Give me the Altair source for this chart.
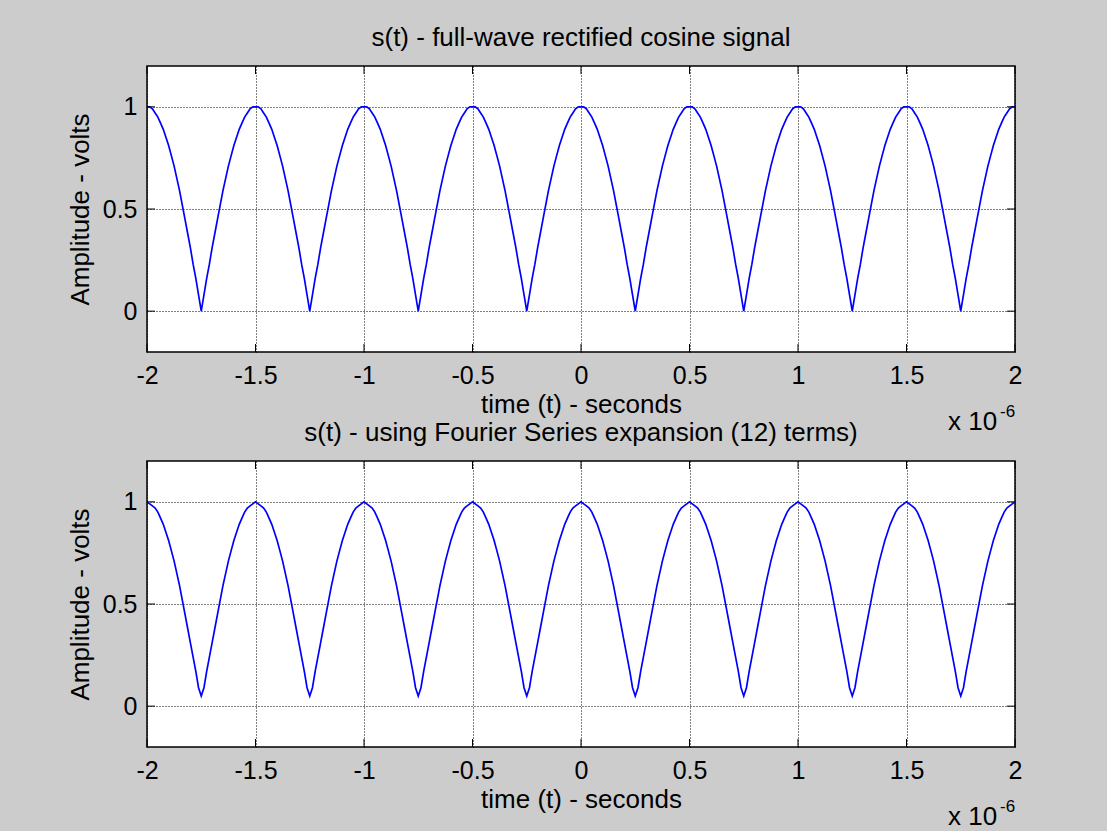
import altair as alt
import pandas as pd

# ---- data (time in microseconds, amplitude in volts) ----
x_ticks = [-2, -1.5, -1, -0.5, 0, 0.5, 1, 1.5, 2]
y_ticks = [0, 0.5, 1]
period_starts = [-2, -1.5, -1, -0.5, 0, 0.5, 1, 1.5]
period_offsets = [0.0, 0.0125, 0.025, 0.0375, 0.05, 0.0625, 0.075, 0.0875, 0.1, 0.1125,
                  0.125, 0.1375, 0.15, 0.1625, 0.175, 0.1875, 0.2, 0.2125, 0.225, 0.2375,
                  0.25, 0.2625, 0.275, 0.2875, 0.3, 0.3125, 0.325, 0.3375, 0.35, 0.3625,
                  0.375, 0.3875, 0.4, 0.4125, 0.425, 0.4375, 0.45, 0.4625, 0.475, 0.4875, 0.5]
rectified = [1.00, 1.00, 0.99, 0.97, 0.95, 0.92, 0.89, 0.85, 0.81, 0.76,
             0.71, 0.65, 0.59, 0.52, 0.45, 0.38, 0.31, 0.23, 0.16, 0.08,
             0.00, 0.08, 0.16, 0.23, 0.31, 0.38, 0.45, 0.52, 0.59, 0.65,
             0.71, 0.76, 0.81, 0.85, 0.89, 0.92, 0.95, 0.97, 0.99, 1.00, 1.00]
fourier12 = [1.00, 0.99, 0.98, 0.97, 0.95, 0.92, 0.89, 0.85, 0.81, 0.76,
             0.71, 0.65, 0.59, 0.52, 0.45, 0.38, 0.31, 0.24, 0.17, 0.09,
             0.05, 0.09, 0.17, 0.24, 0.31, 0.38, 0.45, 0.52, 0.59, 0.65,
             0.71, 0.76, 0.81, 0.85, 0.89, 0.92, 0.95, 0.97, 0.98, 0.99, 1.00]

titles = ["s(t) - full-wave rectified cosine signal",
          "s(t) - using Fourier Series expansion (12) terms)"]
x_title = "time (t) - seconds"
y_title = "Amplitude - volts"
exp_base = "x 10"
exp_power = "-6"

FONT = "Liberation Sans"
W, H = 868, 286
TICK_FS = 25
LABEL_FS = 26


def series(values):
    rows = []
    for i, start in enumerate(period_starts):
        for j, (off, v) in enumerate(zip(period_offsets, values)):
            if i > 0 and j == 0:
                continue
            rows.append({"t": start + off, "v": v})
    return pd.DataFrame(rows)


xscale = alt.Scale(domain=[-2, 2], nice=False, zero=False)
yscale = alt.Scale(domain=[-0.2, 1.2], nice=False, zero=False)
x_axis = alt.Axis(values=x_ticks, title=x_title, grid=True, ticks=False, domain=False,
                  gridColor="black", gridDash=[1, 2], gridOpacity=1, gridWidth=1,
                  labelExpr="'' + datum.value", labelFont=FONT, labelFontSize=TICK_FS,
                  labelColor="black", labelPadding=11, labelFlush=False,
                  titleFont=FONT, titleFontSize=LABEL_FS, titleFontWeight="normal",
                  titleColor="black", titlePadding=3)
y_axis = alt.Axis(values=y_ticks, title=y_title, grid=True, ticks=False, domain=False,
                  gridColor="black", gridDash=[1, 2], gridOpacity=1, gridWidth=1,
                  labelExpr="'' + datum.value", labelFont=FONT, labelFontSize=TICK_FS,
                  labelColor="black", labelPadding=10,
                  titleFont=FONT, titleFontSize=LABEL_FS, titleFontWeight="normal",
                  titleColor="black", titlePadding=9)
X_T = alt.X("t:Q", scale=xscale, axis=x_axis)
Y_V = alt.Y("v:Q", scale=yscale, axis=y_axis)


def panel(values, title):
    df = series(values)
    line = alt.Chart(df).mark_line(color="#0000ff", strokeWidth=1.7, clip=True).encode(x=X_T, y=Y_V)
    xt = pd.DataFrame({"t": x_ticks})
    yt = pd.DataFrame({"v": y_ticks})
    tick_bottom = alt.Chart(xt).mark_rule(color="black", strokeWidth=1).encode(
        x=X_T, y=alt.value(H), y2=alt.value(H - 8))
    tick_top = alt.Chart(xt).mark_rule(color="black", strokeWidth=1).encode(
        x=X_T, y=alt.value(0), y2=alt.value(8))
    tick_left = alt.Chart(yt).mark_rule(color="black", strokeWidth=1).encode(
        y=Y_V, x=alt.value(0), x2=alt.value(8))
    tick_right = alt.Chart(yt).mark_rule(color="black", strokeWidth=1).encode(
        y=Y_V, x=alt.value(W), x2=alt.value(W - 8))
    base_txt = alt.Chart(pd.DataFrame({"s": [exp_base]})).mark_text(
        align="left", baseline="alphabetic", font=FONT, fontSize=LABEL_FS, color="black"
    ).encode(text="s:N", x=alt.value(801), y=alt.value(364))
    pow_txt = alt.Chart(pd.DataFrame({"s": [exp_power]})).mark_text(
        align="left", baseline="alphabetic", font=FONT, fontSize=17, color="black"
    ).encode(text="s:N", x=alt.value(853), y=alt.value(351))
    return alt.layer(line, tick_bottom, tick_top, tick_left, tick_right, base_txt, pow_txt).properties(
        width=W, height=H,
        title=alt.TitleParams(title, font=FONT, fontSize=LABEL_FS, fontWeight="normal",
                              color="black", anchor="middle", offset=15),
    )


top = panel(rectified, titles[0])
bottom = panel(fourier12, titles[1])

chart = alt.vconcat(top, bottom, spacing=109, bounds="flush").properties(
    padding={"left": 66, "top": 23, "right": 84, "bottom": 0},
    background="#cccccc",
).configure_view(stroke="black", strokeWidth=1.5, fill="white")

chart.save("out.html", embed_options={"renderer": "svg", "actions": False})
